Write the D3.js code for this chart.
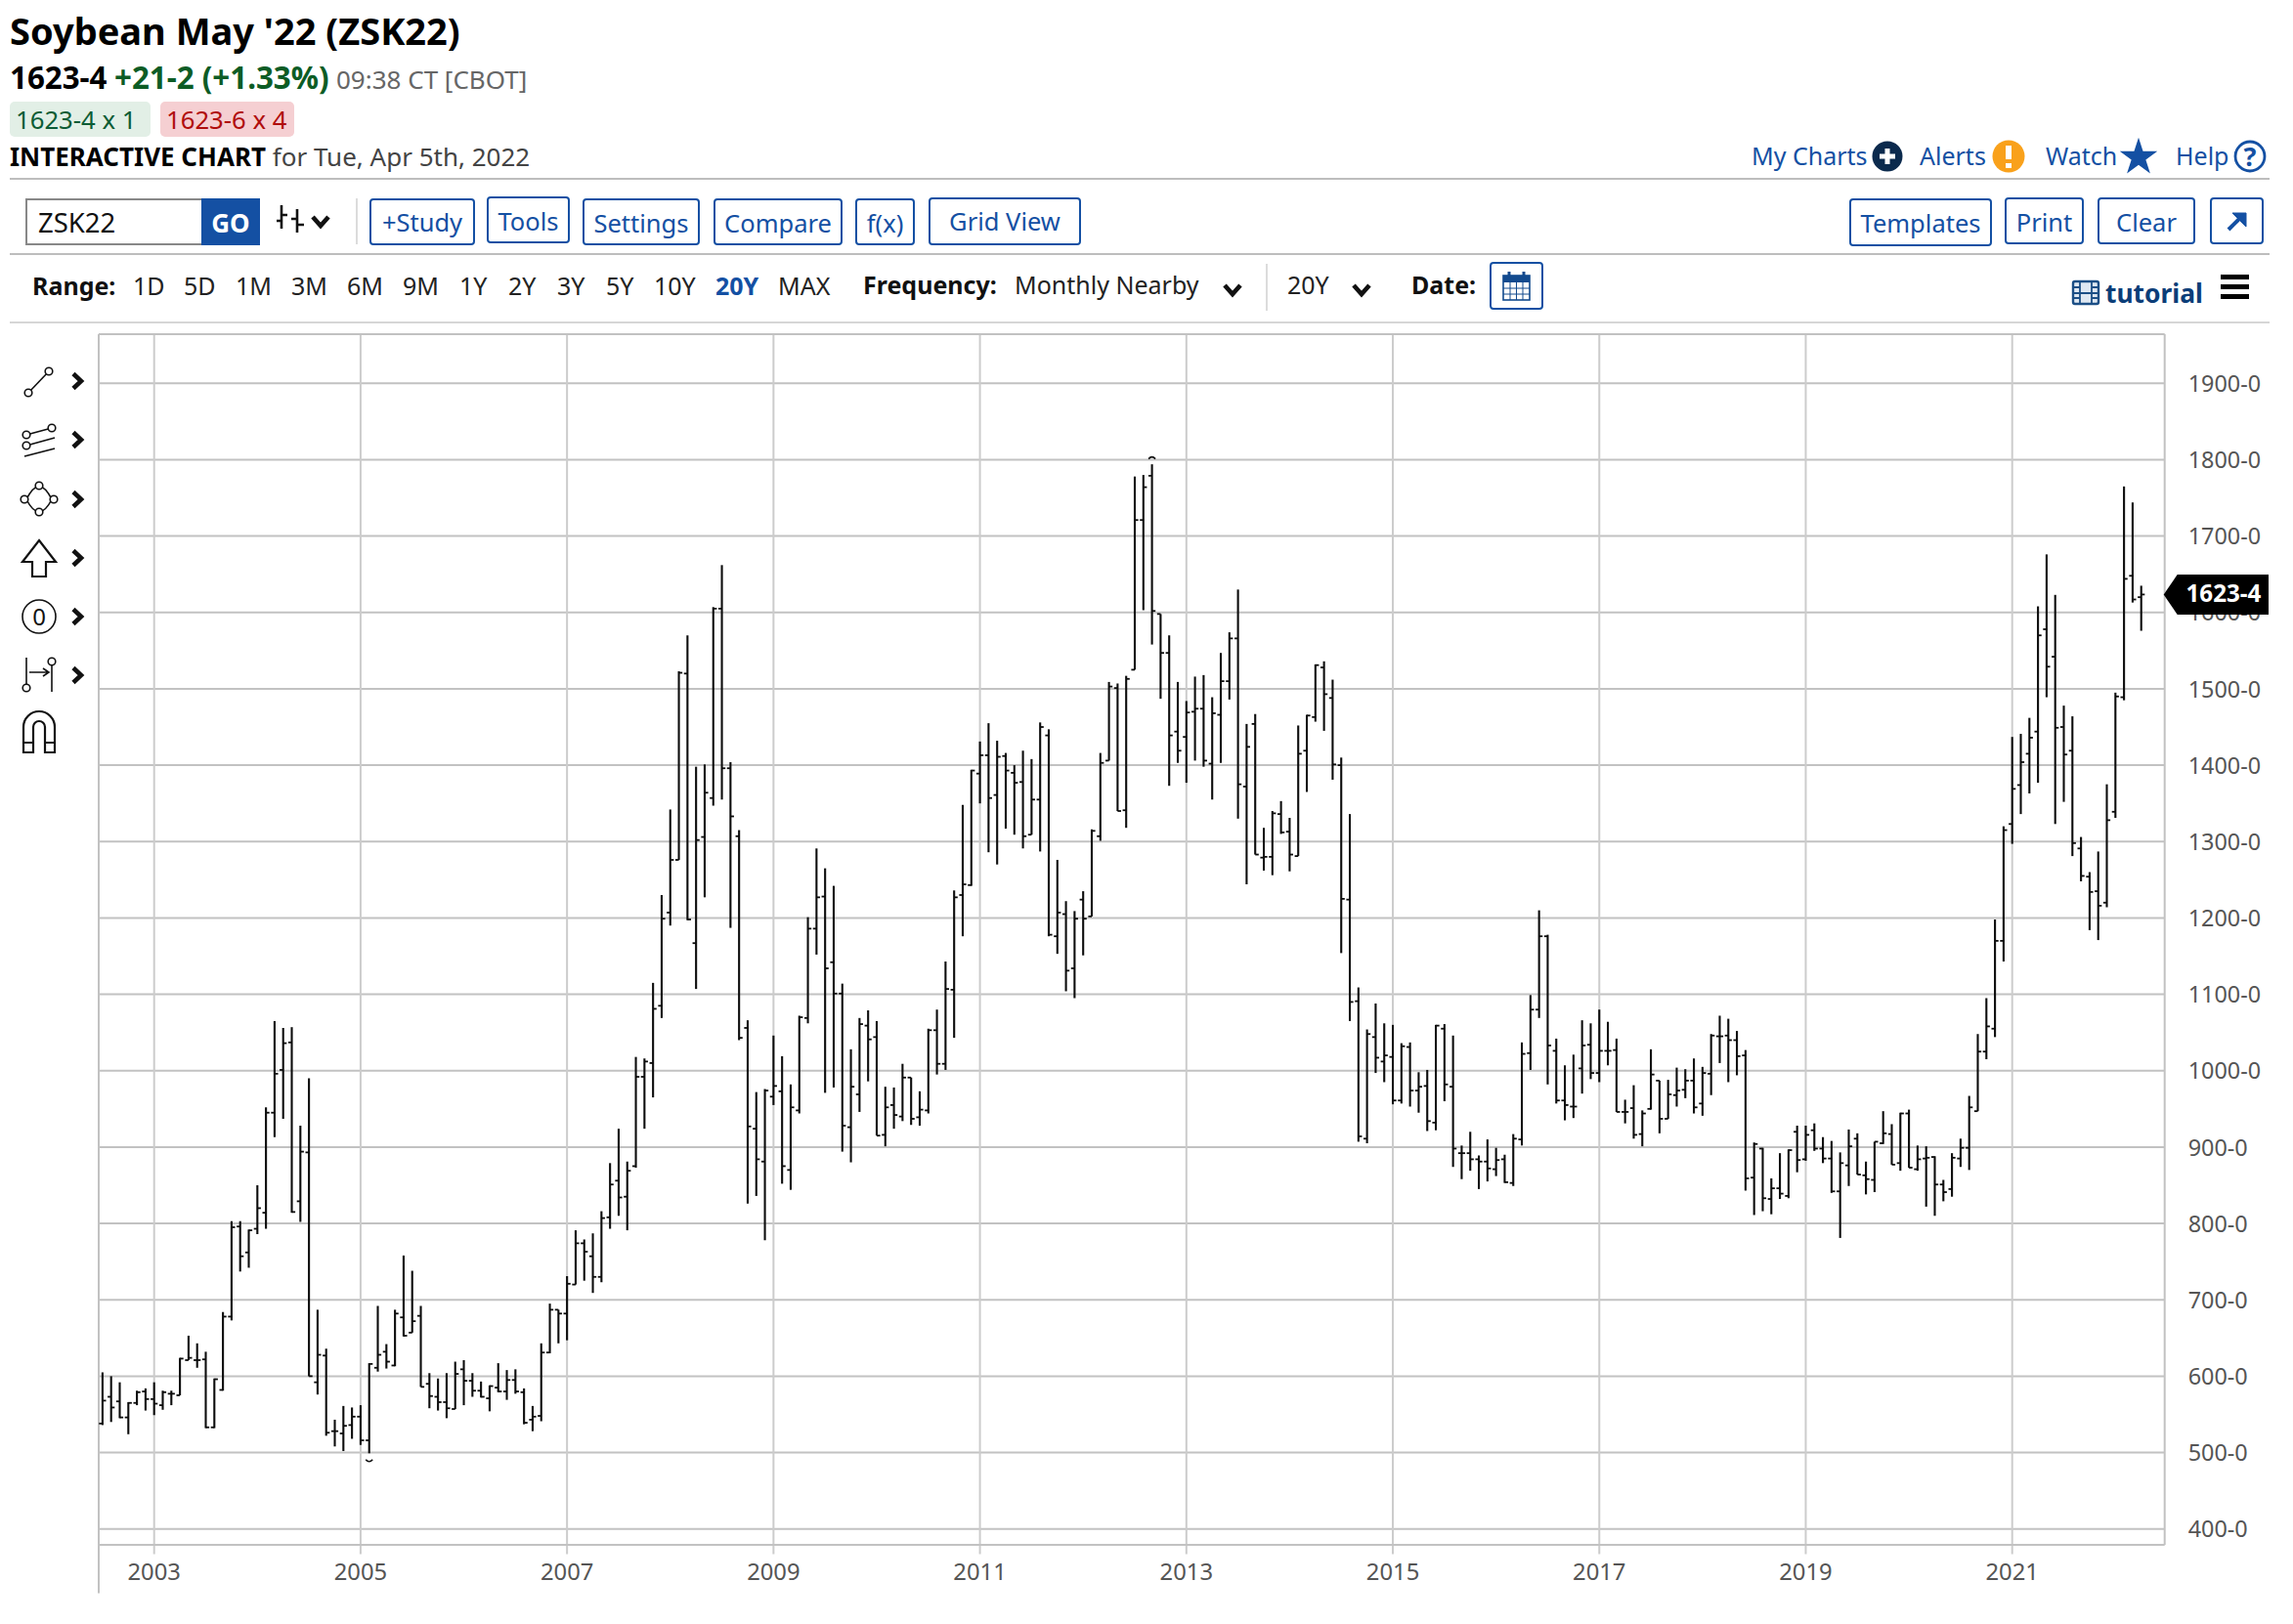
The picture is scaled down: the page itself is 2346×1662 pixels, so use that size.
<!DOCTYPE html>
<html><head><meta charset="utf-8">
<script src="https://cdn.jsdelivr.net/npm/d3@7/dist/d3.min.js"></script>
<style>html,body{margin:0;padding:0;background:#fff}svg{display:block}text{font-family:"Noto Sans",sans-serif}</style>
</head><body><svg id="c" width="2346" height="1662"></svg>
<script>
const firstMonth = "2002-07";
const opens = [538,573,567,546,565,580,570,562,577,575,
621,621,622,533,582,678,796,762,793,814,
945,1001,1037,829,893,592,627,528,525,536,
547,516,611,632,614,677,657,679,590,573,
566,557,609,594,581,571,585,580,595,579,
543,548,631,687,682,720,774,757,730,808,
856,835,875,992,1010,1085,1207,1276,1520,1167,
1306,1357,1605,1396,1307,1056,924,881,966,973,
870,948,1069,1186,1228,1142,1101,926,969,1059,
1044,916,955,940,991,939,948,1053,1009,1106,
1230,1243,1389,1413,1361,1412,1390,1378,1309,1355,
1439,1176,1205,1134,1224,1202,1307,1406,1501,1341,
1525,1721,1779,1598,1547,1444,1437,1470,1474,1402,
1466,1510,1566,1372,1454,1279,1280,1336,1313,1281,
1419,1463,1528,1488,1400,1224,1091,911,1044,1012,
1018,961,1031,974,980,932,1055,979,892,892,
884,881,871,884,853,910,1023,1080,1176,1026,
961,953,1003,1034,997,1026,1027,946,951,917,
950,987,937,968,975,987,957,996,1045,1046,
1040,1020,860,898,832,846,836,920,884,922,
898,885,842,876,911,863,857,905,917,879,
944,871,885,887,851,845,885,899,947,1025,
1055,1170,1323,1374,1415,1444,1578,1542,1450,1419,
1291,1254,1235,1220,1339,1489,1648,1620];
const closes = [568,559,546,565,579,570,564,579,577,623,
624,621,533,596,678,795,757,791,820,945,
996,1036,815,894,600,628,526,528,535,547,
516,616,628,619,682,653,672,586,574,566,
558,603,594,581,573,587,580,595,580,539,
547,631,687,682,721,774,763,730,807,851,
834,869,992,1012,1081,1199,1276,1521,1198,1302,
1364,1605,1396,1333,1043,927,884,974,980,875,
952,1070,1186,1227,1134,1101,928,979,1061,1041,
915,952,942,991,937,949,1053,1009,1107,1227,
1244,1393,1413,1357,1411,1393,1377,1307,1355,1450,
1178,1207,1131,1199,1199,1314,1403,1503,1340,1513,
1721,1764,1602,1547,1439,1419,1469,1474,1406,1468,
1510,1566,1375,1424,1283,1280,1337,1312,1283,1415,
1465,1531,1493,1401,1225,1090,914,1048,1017,1020,
961,1032,974,979,934,1059,982,898,892,884,
881,872,883,854,911,1022,1080,1176,1033,961,
955,953,1033,997,1026,1026,946,946,916,944,
995,937,969,974,987,952,997,1046,1045,1040,
1019,859,904,833,846,839,896,883,916,898,
885,842,879,901,864,858,907,918,877,944,
873,884,886,851,841,886,899,952,1025,1058,
1170,1315,1369,1404,1436,1570,1529,1449,1414,1298,
1255,1234,1216,1328,1490,1644,1617,1623.5];
const highs = [605,600,592,566,581,584,592,581,581,624,
653,643,632,597,684,803,803,792,850,952,
1065,1056,1057,928,990,687,636,543,561,559,
562,617,692,642,687,758,738,692,604,597,
604,619,621,604,593,588,617,608,609,584,
561,643,695,687,731,791,779,787,816,879,
924,881,1018,1016,1115,1230,1342,1523,1570,1398,
1401,1607,1662,1404,1315,1066,972,976,1046,1019,
982,1072,1201,1291,1265,1242,1114,1028,1069,1079,
1065,979,978,1009,991,973,1055,1080,1143,1236,
1348,1394,1431,1455,1432,1416,1400,1419,1408,1456,
1447,1276,1222,1209,1235,1316,1416,1509,1507,1517,
1778,1780,1794,1598,1570,1509,1484,1516,1518,1489,
1547,1574,1630,1454,1467,1318,1340,1353,1331,1452,
1466,1532,1536,1512,1410,1336,1109,1054,1088,1062,
1060,1036,1037,998,1001,1060,1061,1046,902,920,
889,910,899,890,917,1037,1099,1210,1178,1042,
1007,1021,1066,1062,1080,1064,1042,962,981,948,
1028,987,988,1004,1002,1016,1005,1048,1072,1068,
1052,1027,906,899,859,892,897,928,928,931,
913,908,893,923,918,881,907,947,930,945,
949,902,901,888,857,892,911,967,1048,1095,
1198,1320,1437,1441,1462,1608,1676,1623,1478,1464,
1306,1260,1287,1375,1495,1765,1744,1635];
const lows = [536,540,545,524,562,555,549,556,562,575,
621,611,532,532,581,673,737,742,786,793,
913,937,814,802,600,576,522,508,502,518,
510,499,606,610,613,652,657,586,558,555,
545,557,562,573,572,554,579,569,577,537,
528,541,630,643,647,720,725,709,723,793,
810,791,873,924,965,1069,1190,1276,1197,1107,
1227,1347,1355,1187,1040,826,836,778,955,852,
844,944,1062,1152,971,978,894,880,946,986,
915,901,924,934,929,928,944,995,1001,1043,
1176,1242,1350,1286,1270,1317,1309,1291,1309,1287,
1176,1153,1104,1095,1151,1202,1301,1406,1340,1318,
1525,1603,1558,1487,1373,1403,1377,1406,1398,1355,
1403,1486,1330,1244,1283,1262,1256,1310,1261,1281,
1365,1457,1445,1381,1154,1065,907,905,997,985,
956,957,953,945,921,922,960,874,858,869,
845,855,862,853,849,902,1001,1069,982,957,
935,938,970,989,985,1007,946,931,911,901,
949,918,937,953,964,944,941,968,1010,985,
994,843,811,816,812,832,833,867,882,895,
879,840,781,849,864,838,841,904,877,869,
873,869,822,810,829,835,874,870,947,1015,
1044,1143,1297,1336,1363,1377,1489,1323,1352,1281,
1248,1184,1171,1214,1331,1485,1613,1576];
const yearLabels = [2003,2005,2007,2009,2011,2013,2015,2017,2019,2021];
const priceTicks = [400,500,600,700,800,900,1000,1100,1200,1300,1400,1500,1600,1700,1800,1900];
const lastPrice = 1623.5;
const lastPriceLabel = "1623-4";
const allTimeHighIndex = 122, allTimeLowIndex = 31;

const svg = d3.select("#c");
const BLUE = "#1450a3", GRID = "#c2c2c2";
const monthOfYear = y => (y - 2002) * 12 - 6;
const x = d3.scaleLinear().domain([6, 222]).range([157.7, 2058.7]);
const y = d3.scaleLinear().domain([400, 1900]).range([1564.7, 392.3]);
const L = 101, R = 2214.7, T = 342, B = 1581;

function t(str, px, py, size, fill, opts = {}) {
  return svg.append("text").attr("x", px).attr("y", py).attr("font-size", size).attr("fill", fill)
    .attr("font-weight", opts.bold ? 700 : 400).attr("text-anchor", opts.anchor || "start").text(str);
}
function rule(x1, y1, x2, y2, c = "#bdbdbd", w = 2) {
  svg.append("line").attr("x1", x1).attr("y1", y1).attr("x2", x2).attr("y2", y2).attr("stroke", c).attr("stroke-width", w);
}
function path(d, stroke, w, fill = "none") {
  return svg.append("path").attr("d", d).attr("stroke", stroke).attr("stroke-width", w).attr("fill", fill);
}
function chev(cx, cy, dir) {
  const d = dir === "down" ? `M${cx-8},${cy-5}L${cx},${cy+4}L${cx+8},${cy-5}` : `M${cx-4},${cy-7.5}L${cx+4},${cy}L${cx-4},${cy+7.5}`;
  path(d, "#111", 4.6, "none");
}

/* ---- header ---- */
t("Soybean May '22 (ZSK22)", 10, 46, 38, "#000", {bold: true});
t("1623-4", 10, 91, 31.3, "#000", {bold: true});
t("+21-2 (+1.33%)", 117, 91, 31.3, "#0d5c25", {bold: true});
t("09:38 CT [CBOT]", 344, 91, 26, "#666");
svg.append("rect").attr("x", 10).attr("y", 104).attr("width", 144).attr("height", 36).attr("rx", 5).attr("fill", "#e2efe6");
svg.append("rect").attr("x", 164).attr("y", 104).attr("width", 137).attr("height", 36).attr("rx", 5).attr("fill", "#f5cfd2");
t("1623-4 x 1", 16, 132, 25.7, "#0d5c35");
t("1623-6 x 4", 170, 132, 25.7, "#b00d0d");
const l4 = svg.append("text").attr("x", 10).attr("y", 170).attr("font-size", 26);
l4.append("tspan").attr("font-weight", 700).attr("fill", "#000").text("INTERACTIVE CHART ");
l4.append("tspan").attr("fill", "#444").text("for Tue, Apr 5th, 2022");

t("My Charts", 1792, 169, 25, BLUE);
svg.append("circle").attr("cx", 1931).attr("cy", 160).attr("r", 15.5).attr("fill", "#0b2a4d");
path("M1923,160H1939M1931,152V168", "#fff", 5);
t("Alerts", 1964, 169, 25, BLUE);
svg.append("circle").attr("cx", 2055).attr("cy", 160).attr("r", 16.5).attr("fill", "#f9a11b");
path("M2055,149V163", "#fff", 6); path("M2055,167V172", "#fff", 6);
t("Watch", 2093, 169, 25, BLUE);
svg.append("path").attr("d", d3.symbol(d3.symbolStar, 460)()).attr("transform", "translate(2188,161)").attr("fill", BLUE);
t("Help", 2226, 169, 25, BLUE);
svg.append("circle").attr("cx", 2302).attr("cy", 160).attr("r", 15).attr("fill", "#fff").attr("stroke", BLUE).attr("stroke-width", 2.8);
t("?", 2302, 170, 27, BLUE, {bold: true, anchor: "middle"});
rule(10, 183, 2322, 183);

/* ---- toolbar ---- */
svg.append("rect").attr("x", 27).attr("y", 204).attr("width", 180).attr("height", 46).attr("fill", "#fff").attr("stroke", "#888").attr("stroke-width", 2);
t("ZSK22", 39, 238, 27.5, "#111");
svg.append("rect").attr("x", 206).attr("y", 203).attr("width", 60).attr("height", 48).attr("fill", BLUE);
t("GO", 236, 238, 26, "#fff", {bold: true, anchor: "middle"});
path("M288,210V234M283,226H288M288,220H294M304,214V238M298,224H304M304,230H311", "#111", 2.6);
chev(328, 227, "down");
rule(365, 203, 365, 250, "#d0d0d0", 1.5);
const toolButtons = [["+Study",379,485,204,250,237],["Tools",499,582,202,248,236],["Settings",597,715,204,250,238],["Compare",731,861,204,250,238],["f(x)",876,935,204,250,238],["Grid View",951,1105,203,250,236],
 ["Templates",1893,2037,204,251,238],["Print",2052,2131,203,249,237],["Clear",2147,2245,203,249,237]];
toolButtons.forEach(([s,a,b,c,d,bl]) => {
  svg.append("rect").attr("x", a).attr("y", c).attr("width", b-a).attr("height", d-c).attr("rx", 3).attr("fill", "#fff").attr("stroke", BLUE).attr("stroke-width", 2);
  t(s, (a+b)/2, bl, 25.5, BLUE, {anchor: "middle"});
});
svg.append("rect").attr("x", 2262).attr("y", 203).attr("width", 53).attr("height", 46).attr("rx", 3).attr("fill", "#fff").attr("stroke", BLUE).attr("stroke-width", 2);
path("M2280,235L2291,224", BLUE, 4);
path("M2284,218H2298V232Z", BLUE, 1, BLUE);
rule(10, 260, 2322, 260);

/* ---- range row ---- */
t("Range:", 33, 302, 25, "#111", {bold: true});
const ranges = [["1D",136],["5D",188],["1M",241],["3M",298],["6M",355],["9M",412],["1Y",470],["2Y",520],["3Y",570],["5Y",620],["10Y",669],["20Y",732],["MAX",796]];
ranges.forEach(([s,a]) => t(s, a, 302, 25, s === "20Y" ? BLUE : "#222", {bold: s === "20Y"}));
t("Frequency:", 883, 301, 25, "#111", {bold: true});
t("Monthly Nearby", 1038, 301, 25, "#222");
chev(1261, 297, "down");
rule(1296, 270, 1296, 318, "#d0d0d0", 1.5);
t("20Y", 1317, 301, 25, "#222");
chev(1393, 297, "down");
t("Date:", 1444, 301, 25, "#111", {bold: true});
svg.append("rect").attr("x", 1525).attr("y", 269).attr("width", 53).attr("height", 47).attr("rx", 3).attr("fill", "#fff").attr("stroke", BLUE).attr("stroke-width", 2);
svg.append("rect").attr("x", 1538).attr("y", 282).attr("width", 27).attr("height", 25).attr("fill", "#fff").attr("stroke", "#124a8e").attr("stroke-width", 1.6);
svg.append("rect").attr("x", 1538).attr("y", 282).attr("width", 27).attr("height", 7).attr("fill", "#124a8e");
path("M1544,278V285M1559,278V285", "#124a8e", 3);
path("M1538,295H1565M1538,301H1565M1545,289V307M1551.5,289V307M1558,289V307", "#124a8e", 1);
svg.append("rect").attr("x", 2121).attr("y", 288).attr("width", 26).attr("height", 23).attr("rx", 2).attr("fill", "#dfe8f2").attr("stroke", "#1c4f86").attr("stroke-width", 2.4);
path("M2128,288V311M2140,288V311M2121,300H2147M2121,294H2128M2121,305H2128M2140,294H2147M2140,305H2147", "#1c4f86", 1.8);
t("tutorial", 2154, 310, 26.4, "#0b3d78", {bold: true});
path("M2272,283.5H2301M2272,293.5H2301M2272,303.5H2301", "#000", 5);
rule(10, 330, 2322, 330, "#c8c8c8", 1.5);

/* ---- left tool icons ---- */
const ringIcon = (cx, cy, r = 3.8) => svg.append("circle").attr("cx", cx).attr("cy", cy).attr("r", r).attr("fill", "#fff").attr("stroke", "#111").attr("stroke-width", 1.6);
path("M29,402L50,380", "#111", 1.6); ringIcon(29,402); ringIcon(50,380);
path("M27,445L53,438M27,456L56,448M25,467L56,459", "#111", 1.8); ringIcon(27,445); ringIcon(53,438); ringIcon(27,456);
path("M27,511Q33,499 40,497Q47,499 53,511Q47,523 40,524Q33,523 27,511Z", "#111", 1.6); ringIcon(40,497); ringIcon(25,511); ringIcon(55,511); ringIcon(40,524);
path("M40,553L57,575H47V590H33V575H23Z", "#111", 2.2);
svg.append("circle").attr("cx", 40).attr("cy", 631).attr("r", 17).attr("fill", "none").attr("stroke", "#111").attr("stroke-width", 1.6);
t("0", 40, 640, 24, "#111", {anchor: "middle"});
path("M27,673V702M30,688H49M44,684L50,688L44,692M53,680V708", "#111", 1.6); ringIcon(27,704); ringIcon(53,677);
path("M24,770V744A16,16 0 0 1 56,744V770H46V744A6,6 0 0 0 34,744V770ZM24,760H34M46,760H56", "#111", 2.2);
[390,450,511,571,631,691].forEach(cy => chev(79, cy, "right"));

/* ---- grid & frame ---- */
const g = svg.append("g");
const yAxisGen = d3.axisRight(y).tickValues(priceTicks).tickFormat(v => v + "-0").tickSize(0).tickPadding(24);
const yAxisG = g.append("g").attr("transform", `translate(${R},0.6)`).call(yAxisGen);
yAxisG.select(".domain").remove();
yAxisG.selectAll("text").attr("font-size", 23.4).attr("fill", "#555").attr("font-family", '"Noto Sans",sans-serif');
g.append("g").selectAll("line").data(priceTicks).join("line")
  .attr("x1", L).attr("x2", R).attr("y1", d => y(d)).attr("y2", d => y(d)).attr("stroke", GRID).attr("stroke-width", 2);
const xAxisGen = d3.axisBottom(x).tickValues(yearLabels.map(monthOfYear)).tickFormat(m => 2002 + Math.round((m + 6) / 12)).tickSize(0).tickPadding(19.5);
const xAxisG = g.append("g").attr("transform", `translate(-0.5,${B})`).call(xAxisGen);
xAxisG.select(".domain").remove();
xAxisG.selectAll("text").attr("font-size", 23.8).attr("fill", "#555").attr("font-family", '"Noto Sans",sans-serif');
g.append("g").selectAll("line").data(yearLabels).join("line")
  .attr("x1", d => x(monthOfYear(d))).attr("x2", d => x(monthOfYear(d))).attr("y1", T).attr("y2", 1590.5)
  .attr("stroke", "#cccccc").attr("stroke-width", 2);
rule(L, T, R, T, GRID, 2); rule(L, B, R, B, GRID, 2);
rule(L, T, L, 1630.5, GRID, 2); rule(R, T, R, 1581, GRID, 2);

/* ---- OHLC bars ---- */
const bars = svg.append("g").attr("fill", "none").attr("stroke", "#0c0c0c");
const idx = d3.range(highs.length);
bars.selectAll("line.hl").data(idx).join("line").attr("class", "hl").attr("stroke-width", 2.1)
  .attr("x1", i => x(i)).attr("x2", i => x(i)).attr("y1", i => y(highs[i])).attr("y2", i => y(lows[i]));
bars.selectAll("line.o").data(idx).join("line").attr("class", "o").attr("stroke-width", 1.8)
  .attr("x1", i => x(i) - 3.6).attr("x2", i => x(i)).attr("y1", i => y(opens[i])).attr("y2", i => y(opens[i]));
bars.selectAll("line.c").data(idx).join("line").attr("class", "c").attr("stroke-width", 1.8)
  .attr("x1", i => x(i)).attr("x2", i => x(i) + 3.6).attr("y1", i => y(closes[i])).attr("y2", i => y(closes[i]));

/* extreme markers */
{
  const hx = x(allTimeHighIndex), hy = y(highs[allTimeHighIndex]) - 7;
  path(`M${hx-3.5},${hy+1.5}Q${hx},${hy-2.5} ${hx+3.5},${hy+1.5}`, "#111", 1.6);
  const lx = x(allTimeLowIndex), ly = y(lows[allTimeLowIndex]) + 8;
  path(`M${lx-3.5},${ly-1.5}Q${lx},${ly+2.5} ${lx+3.5},${ly-1.5}`, "#111", 1.6);
}

/* last price tag */
{
  const py = y(lastPrice);
  svg.append("path").attr("d", `M${R-1},${py}L${R+13},${py-20.5}H2321V${py+20.5}H${R+13}Z`).attr("fill", "#000");
  t(lastPriceLabel, 2275, py + 8, 24.2, "#fff", {bold: true, anchor: "middle"});
}
</script></body></html>
